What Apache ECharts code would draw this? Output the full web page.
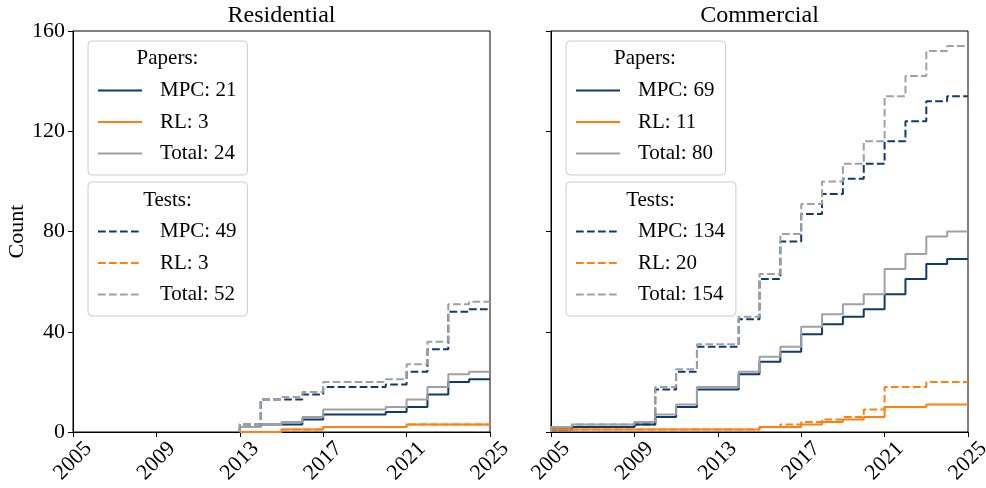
<!DOCTYPE html>
<html>
<head>
<meta charset="utf-8">
<script src="https://cdn.jsdelivr.net/npm/echarts@6/dist/echarts.min.js"></script>
<style>
html,body{margin:0;padding:0;background:#fff;}
#chart{width:986px;height:488px;}
</style>
</head>
<body>
<div id="chart"></div>
<script>
// ---- data ----
const panelTitles = ['Residential', 'Commercial'];
const xTicks = [2005, 2009, 2013, 2017, 2021, 2025];
const yTicks = [0, 40, 80, 120, 160];

const resYears = [2013,2014,2015,2016,2017,2018,2019,2020,2021,2022,2023,2024];
const resPapersMPC   = [2,3,3,5,7,7,7,8,10,15,20,21];
const resPapersRL    = [0,0,1,1,2,2,2,2,3,3,3,3];
const resPapersTotal = [2,3,4,6,9,9,9,10,13,18,23,24];
const resTestsMPC    = [3,13,13,15,18,18,18,19,24,33,48,49];
const resTestsRL     = [0,0,1,1,2,2,2,2,3,3,3,3];
const resTestsTotal  = [3,13,14,16,20,20,20,21,27,36,51,52];

const comYears = [2005,2006,2007,2008,2009,2010,2011,2012,2013,2014,2015,2016,2017,2018,2019,2020,2021,2022,2023,2024];
const comPapersMPC   = [1,2,2,2,3,6,10,17,17,23,28,32,39,43,46,49,55,61,67,69];
const comPapersRL    = [1,1,1,1,1,1,1,1,1,1,2,2,3,4,5,6,10,10,11,11];
const comPapersTotal = [2,3,3,3,4,7,11,18,18,24,30,34,42,47,51,55,65,71,78,80];
const comTestsMPC    = [1,2,2,2,3,17,24,34,34,45,61,76,87,95,101,107,116,124,132,134];
const comTestsRL     = [1,1,1,1,1,1,1,1,1,1,2,3,4,5,6,9,18,18,20,20];
const comTestsTotal  = [2,3,3,3,4,18,25,35,35,46,63,79,91,100,107,116,134,142,152,154];

const endYear = 2025;

// ---- styles ----
const FONT = 'Liberation Serif, Times New Roman, serif';
const C_MPC = '#0f3a6b', C_RL = '#ff800e', C_TOT = '#a0a0a0';
const DASH = [7.7, 3.3];

function stepData(years, vals) {
  const d = [[years[0], 0]];
  years.forEach((y, i) => d.push([y, vals[i]]));
  d.push([endYear, vals[vals.length - 1]]);
  return d;
}

const labelMap = {};
const series = [];
function addSeries(id, label, gi, years, vals, color, dashed) {
  labelMap[id] = label;
  series.push({
    name: id, type: 'line', step: 'end', xAxisIndex: gi, yAxisIndex: gi,
    symbol: 'none', showSymbol: false, animation: false,
    data: stepData(years, vals),
    lineStyle: { color: color, width: 2, type: dashed ? DASH : 'solid' },
    itemStyle: { color: color }
  });
}
addSeries('rpm', 'MPC: ' + resPapersMPC[resPapersMPC.length-1], 0, resYears, resPapersMPC, C_MPC, false);
addSeries('rpr', 'RL: ' + resPapersRL[resPapersRL.length-1], 0, resYears, resPapersRL, C_RL, false);
addSeries('rpt', 'Total: ' + resPapersTotal[resPapersTotal.length-1], 0, resYears, resPapersTotal, C_TOT, false);
addSeries('rtm', 'MPC: ' + resTestsMPC[resTestsMPC.length-1], 0, resYears, resTestsMPC, C_MPC, true);
addSeries('rtr', 'RL: ' + resTestsRL[resTestsRL.length-1], 0, resYears, resTestsRL, C_RL, true);
addSeries('rtt', 'Total: ' + resTestsTotal[resTestsTotal.length-1], 0, resYears, resTestsTotal, C_TOT, true);
addSeries('cpm', 'MPC: ' + comPapersMPC[comPapersMPC.length-1], 1, comYears, comPapersMPC, C_MPC, false);
addSeries('cpr', 'RL: ' + comPapersRL[comPapersRL.length-1], 1, comYears, comPapersRL, C_RL, false);
addSeries('cpt', 'Total: ' + comPapersTotal[comPapersTotal.length-1], 1, comYears, comPapersTotal, C_TOT, false);
addSeries('ctm', 'MPC: ' + comTestsMPC[comTestsMPC.length-1], 1, comYears, comTestsMPC, C_MPC, true);
addSeries('ctr', 'RL: ' + comTestsRL[comTestsRL.length-1], 1, comYears, comTestsRL, C_RL, true);
addSeries('ctt', 'Total: ' + comTestsTotal[comTestsTotal.length-1], 1, comYears, comTestsTotal, C_TOT, true);

const grids = [
  { left: 73, top: 31, width: 417, height: 401, show: true, borderColor: '#000', borderWidth: 1, backgroundColor: 'transparent' },
  { left: 551, top: 31, width: 417, height: 401, show: true, borderColor: '#000', borderWidth: 1, backgroundColor: 'transparent' }
];

function xAxis(gi) {
  return {
    type: 'value', gridIndex: gi, min: xTicks[0], max: xTicks[xTicks.length-1], interval: 4,
    axisLine: { show: true, onZero: false, lineStyle: { color: '#000', width: 1 } },
    axisTick: { show: true, length: 5, lineStyle: { color: '#000', width: 1 } },
    axisLabel: { show: false },
    splitLine: { show: false }
  };
}
function yAxis(gi) {
  const a = {
    type: 'value', gridIndex: gi, min: yTicks[0], max: yTicks[yTicks.length-1], interval: 40,
    axisLine: { show: true, lineStyle: { color: '#000', width: 1 } },
    axisTick: { show: true, length: 5, lineStyle: { color: '#000', width: 1 } },
    axisLabel: { show: gi === 0, margin: 8, fontFamily: FONT, fontSize: 22, color: '#000' },
    splitLine: { show: false }
  };
  if (gi === 0) {
    a.name = 'Count';
    a.nameLocation = 'middle';
    a.nameGap = 45;
    a.nameTextStyle = { fontFamily: FONT, fontSize: 22, color: '#000' };
  }
  return a;
}

function legend(left, top, ids) {
  return {
    left: left, top: top, orient: 'vertical', selectedMode: false,
    itemWidth: 44, itemHeight: 14, itemGap: 10.5,
    padding: [39, 11, 11, 9],
    borderColor: '#cccccc', borderWidth: 1, borderRadius: 4,
    backgroundColor: 'rgba(255,255,255,0.8)',
    itemStyle: { opacity: 0, borderWidth: 0 },
    textStyle: { fontFamily: FONT, fontSize: 21, color: '#000', lineHeight: 20, padding: [0, 0, 0, 13] },
    data: ids,
    formatter: name => labelMap[name]
  };
}

const titleStyle = { fontFamily: FONT, fontWeight: 'normal', color: '#000' };
const titles = [
  { text: panelTitles[0], left: 281.5, top: 4, textAlign: 'center', textStyle: Object.assign({ fontSize: 24 }, titleStyle) },
  { text: panelTitles[1], left: 759.5, top: 4, textAlign: 'center', textStyle: Object.assign({ fontSize: 24 }, titleStyle) },
  { text: 'Papers:', left: 167.5, top: 48, textAlign: 'center', textStyle: Object.assign({ fontSize: 21 }, titleStyle) },
  { text: 'Tests:', left: 167.5, top: 190, textAlign: 'center', textStyle: Object.assign({ fontSize: 21 }, titleStyle) },
  { text: 'Papers:', left: 645, top: 48, textAlign: 'center', textStyle: Object.assign({ fontSize: 21 }, titleStyle) },
  { text: 'Tests:', left: 650.5, top: 190, textAlign: 'center', textStyle: Object.assign({ fontSize: 21 }, titleStyle) }
];
titles.forEach(t => { t.padding = 0; t.z = 10; });

const chart = echarts.init(document.getElementById('chart'), null, { renderer: 'canvas' });
chart.setOption({
  animation: false,
  backgroundColor: '#fff',
  title: titles,
  grid: grids,
  xAxis: [xAxis(0), xAxis(1)],
  yAxis: [yAxis(0), yAxis(1)],
  legend: [
    legend(88, 41, ['rpm', 'rpr', 'rpt']),
    legend(88, 182, ['rtm', 'rtr', 'rtt']),
    legend(566, 41, ['cpm', 'cpr', 'cpt']),
    legend(566, 182, ['ctm', 'ctr', 'ctt'])
  ],
  series: series
});

// rotated x tick labels, centred on each tick (positions from the axis scale)
const labelEls = [];
[0, 1].forEach(gi => {
  xTicks.forEach(v => {
    const px = chart.convertToPixel({ xAxisIndex: gi }, v);
    const py = chart.convertToPixel({ yAxisIndex: gi }, yTicks[0]) + 29;
    labelEls.push({
      type: 'text', x: px, y: py, rotation: Math.PI / 4, silent: true,
      style: { text: String(v), fontFamily: FONT, fontSize: 22, fill: '#000',
               textAlign: 'center', textVerticalAlign: 'middle' }
    });
  });
});
chart.setOption({ graphic: labelEls });
</script>
</body>
</html>
